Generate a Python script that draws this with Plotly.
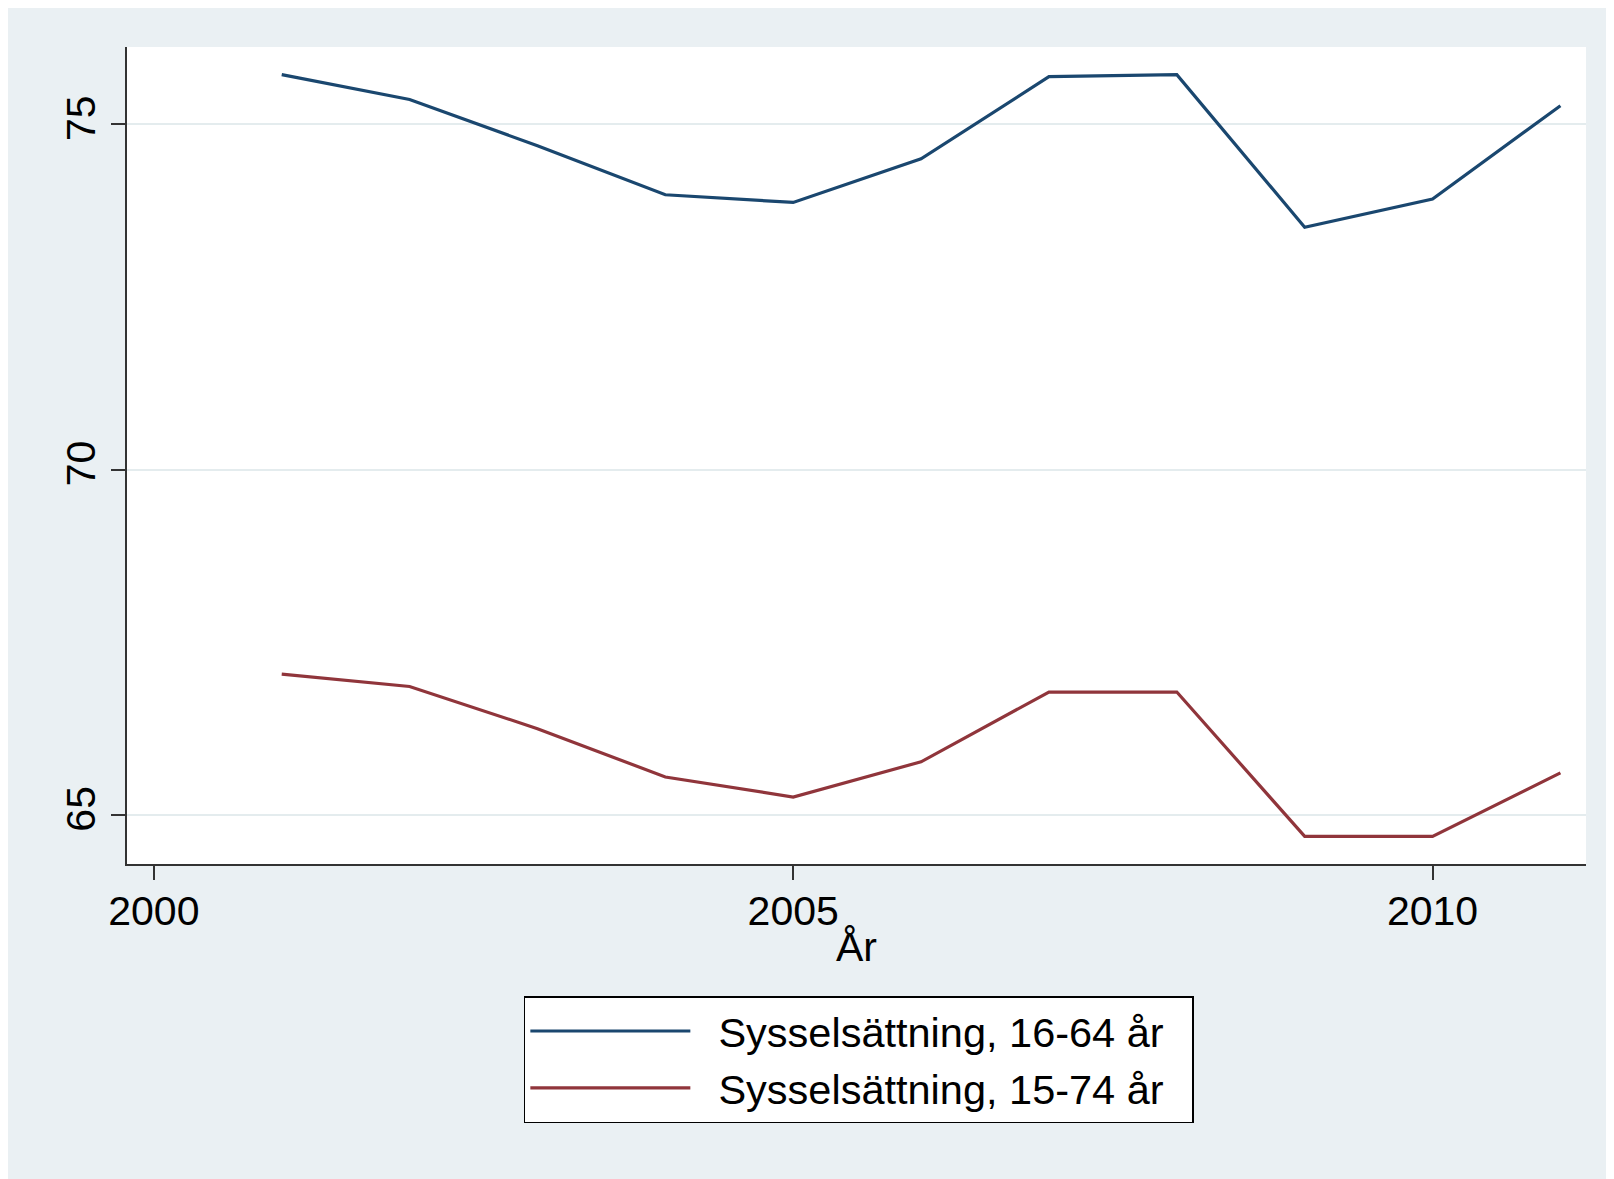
import plotly.graph_objects as go

# Data
years = [2001, 2002, 2003, 2004, 2005, 2006, 2007, 2008, 2009, 2010, 2011]
emp_16_64 = [75.72, 75.36, 74.69, 73.98, 73.87, 74.50, 75.69, 75.72, 73.51, 73.92, 75.27]
emp_15_74 = [67.04, 66.86, 66.25, 65.55, 65.26, 65.77, 66.78, 66.78, 64.69, 64.69, 65.61]
series_names = ["Sysselsättning, 16-64 år", "Sysselsättning, 15-74 år"]
series_colors = ["#1a476f", "#90353b"]
x_ticks = [2000, 2005, 2010]
y_ticks = [65, 70, 75]

FONT = "Liberation Sans, Arial, sans-serif"
BG = "#eaf0f3"
NBSP = "\u00a0"

fig = go.Figure()

for name, vals, color in zip(series_names, [emp_16_64, emp_15_74], series_colors):
    fig.add_trace(
        go.Scatter(
            x=years,
            y=vals,
            # pad the legend label so it sits away from the line sample
            name=NBSP * 2 + name + NBSP * 2,
            mode="lines",
            line=dict(color=color, width=3.2),
        )
    )

# page body adds ~8px margin, so the figure is sized a bit smaller
fig.update_layout(
    width=1606,
    height=1171,
    margin=dict(l=119, r=28, t=39, b=315),
    paper_bgcolor=BG,
    plot_bgcolor="white",
    font=dict(family=FONT, size=41, color="black"),
    showlegend=True,
    legend=dict(
        x=0.272,
        y=-0.1616,
        xanchor="left",
        yanchor="top",
        bgcolor="white",
        bordercolor="black",
        borderwidth=1.5,
        font=dict(size=41.5),
        itemwidth=160,
        tracegroupgap=0,
    ),
    xaxis=dict(
        range=[1999.79, 2011.2],
        tickmode="array",
        tickvals=x_ticks,
        ticks="outside",
        ticklen=14,
        tickwidth=2,
        tickcolor="#333333",
        ticklabelstandoff=-4,
        showline=True,
        linecolor="#333333",
        linewidth=2,
        showgrid=False,
        zeroline=False,
    ),
    yaxis=dict(
        range=[64.29, 76.12],
        tickmode="array",
        tickvals=y_ticks,
        tickangle=-90,
        ticks="outside",
        ticklen=14,
        tickwidth=2,
        tickcolor="#333333",
        showline=True,
        linecolor="#333333",
        linewidth=2,
        showgrid=True,
        gridcolor="#e4ecee",
        gridwidth=2,
        zeroline=False,
    ),
    annotations=[
        dict(text="År", xref="paper", yref="paper", x=0.5, y=-0.102,
             xanchor="center", yanchor="middle", showarrow=False,
             font=dict(size=41)),
    ],
)

fig.write_html("out.html")
